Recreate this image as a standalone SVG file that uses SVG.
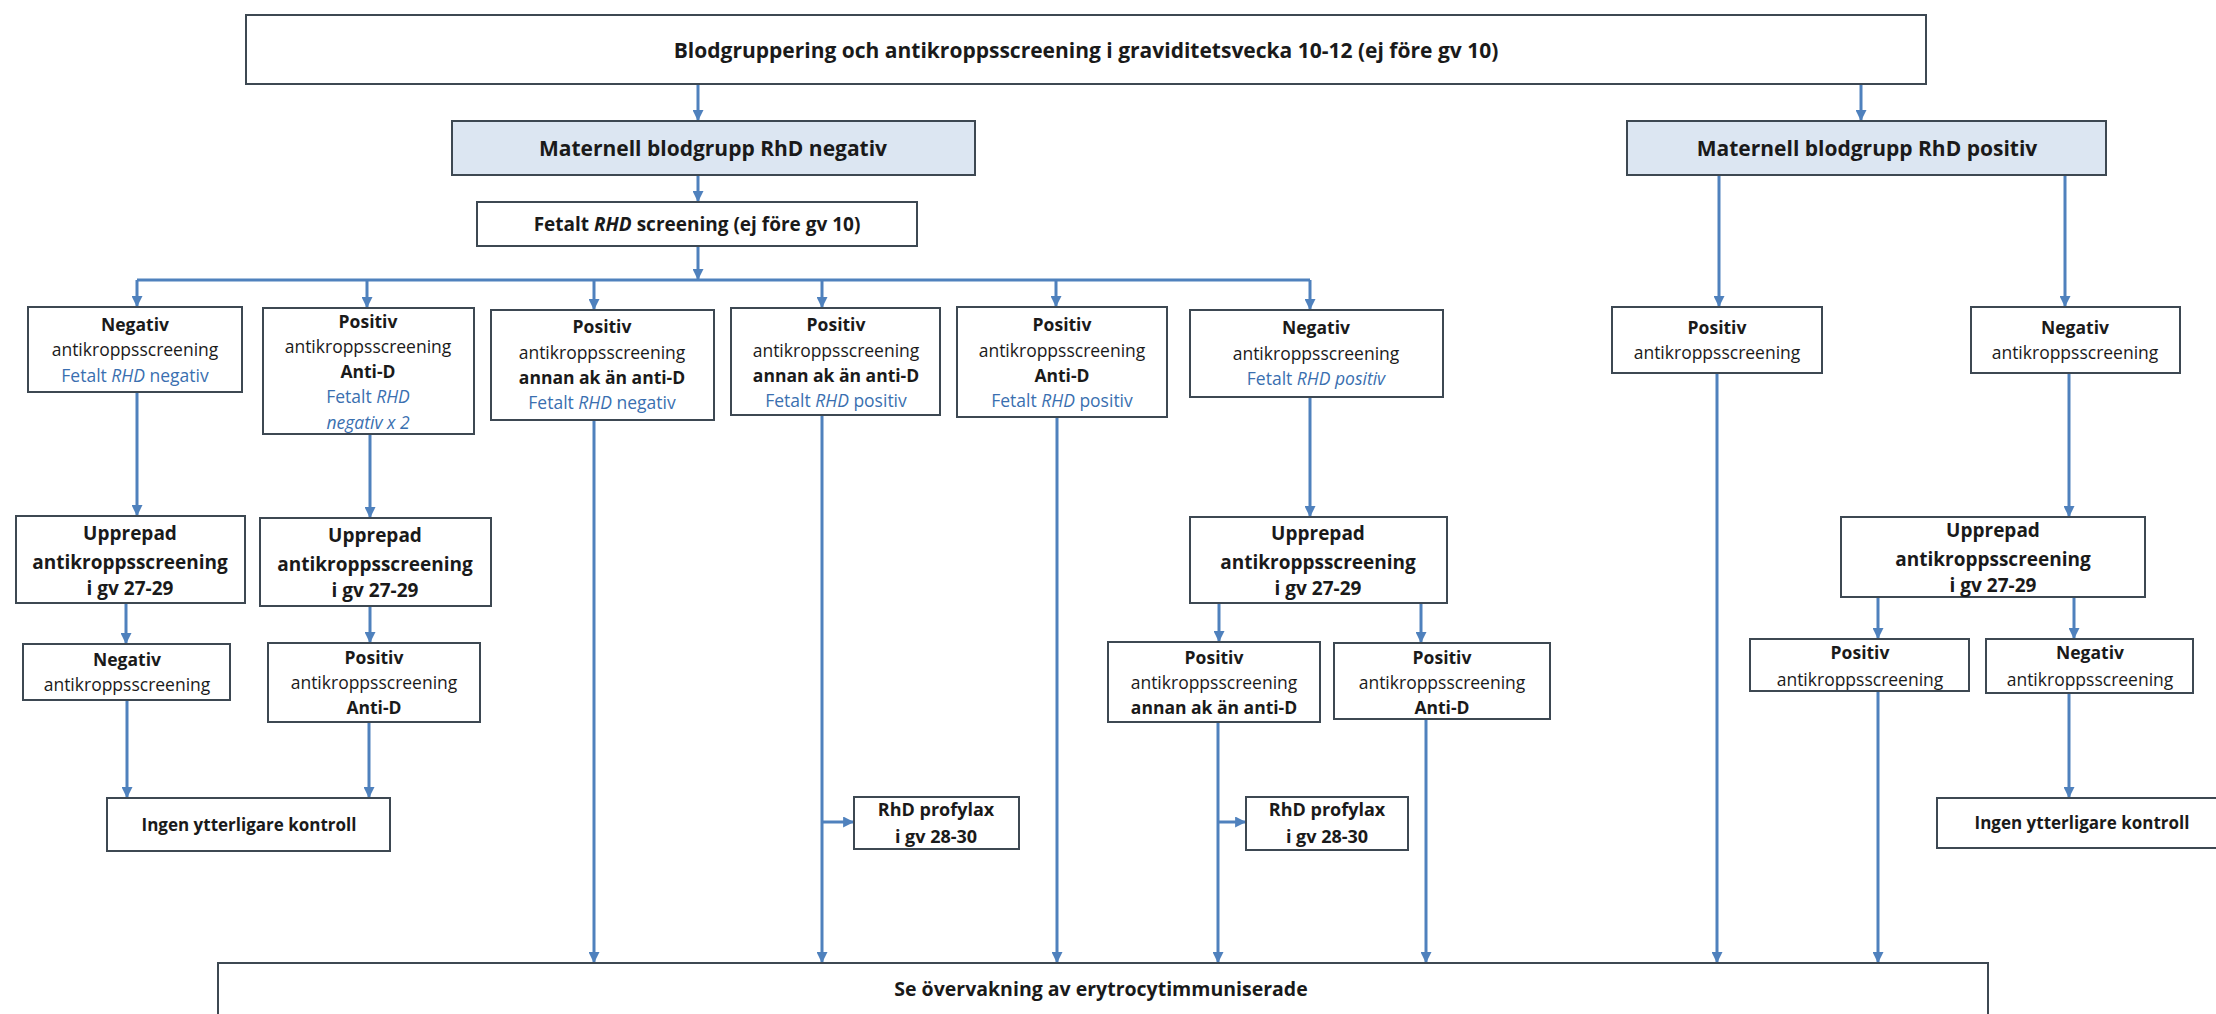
<svg xmlns="http://www.w3.org/2000/svg" width="2216" height="1014" viewBox="0 0 2216 1014">
<style>
.box{fill:#ffffff;stroke:#3d4852;stroke-width:2}
.hl{fill:#dce6f2}
.t{font-family:"Open Sans","Liberation Sans",sans-serif;font-size:17.5px;fill:#1a1a1a;text-anchor:middle}
.L{font-size:19px;font-weight:bold}
.XL{font-size:21px;font-weight:bold}
.M{font-size:17px;font-weight:bold}
.P{font-size:18px;font-weight:bold}
.b{font-weight:bold}
.blue{fill:#3a6fb0}
.i{font-style:italic}
.conn line{stroke:#4f81bd;stroke-width:3;fill:none}
.conn .a{marker-end:url(#ah)}
</style>
<defs>
<marker id="ah" viewBox="0 0 10 10" refX="9" refY="5" markerWidth="11" markerHeight="11" markerUnits="userSpaceOnUse" orient="auto"><path d="M0,0 L10,5 L0,10 z" fill="#4f81bd"/></marker>
</defs>
<rect width="2216" height="1014" fill="#ffffff"/>

<g id="connectors" class="conn">
<line class="a" x1="698" y1="84" x2="698" y2="120"/>
<line class="a" x1="1861" y1="84" x2="1861" y2="120"/>
<line class="a" x1="698" y1="175" x2="698" y2="201"/>
<line class="a" x1="698" y1="246" x2="698" y2="279"/>
<line x1="137" y1="280" x2="1310" y2="280"/>
<line class="a" x1="137" y1="280" x2="137" y2="306"/>
<line class="a" x1="367" y1="280" x2="367" y2="307"/>
<line class="a" x1="594" y1="280" x2="594" y2="309"/>
<line class="a" x1="822" y1="280" x2="822" y2="307"/>
<line class="a" x1="1056" y1="280" x2="1056" y2="306"/>
<line class="a" x1="1310" y1="280" x2="1310" y2="309"/>
<line class="a" x1="1719" y1="175" x2="1719" y2="306"/>
<line class="a" x1="2065" y1="175" x2="2065" y2="306"/>
<line class="a" x1="137" y1="392" x2="137" y2="515"/>
<line class="a" x1="370" y1="434" x2="370" y2="517"/>
<line class="a" x1="126" y1="603" x2="126" y2="643"/>
<line class="a" x1="370" y1="606" x2="370" y2="642"/>
<line class="a" x1="127" y1="700" x2="127" y2="797"/>
<line class="a" x1="369" y1="722" x2="369" y2="797"/>
<line class="a" x1="594" y1="420" x2="594" y2="962"/>
<line class="a" x1="822" y1="415" x2="822" y2="962"/>
<line class="a" x1="822" y1="822" x2="853" y2="822"/>
<line class="a" x1="1057" y1="417" x2="1057" y2="962"/>
<line class="a" x1="1310" y1="397" x2="1310" y2="516"/>
<line class="a" x1="1219" y1="603" x2="1219" y2="641"/>
<line class="a" x1="1421" y1="603" x2="1421" y2="642"/>
<line class="a" x1="1218" y1="722" x2="1218" y2="962"/>
<line class="a" x1="1218" y1="822" x2="1245" y2="822"/>
<line class="a" x1="1426" y1="719" x2="1426" y2="962"/>
<line class="a" x1="1717" y1="373" x2="1717" y2="962"/>
<line class="a" x1="2069" y1="373" x2="2069" y2="516"/>
<line class="a" x1="1878" y1="597" x2="1878" y2="638"/>
<line class="a" x1="2074" y1="597" x2="2074" y2="638"/>
<line class="a" x1="1878" y1="691" x2="1878" y2="962"/>
<line class="a" x1="2069" y1="693" x2="2069" y2="797"/>
</g>

<g id="n_top"><rect class="box" x="246" y="15" width="1680" height="69"/>
<text class="t XL" x="1086" y="58">Blodgruppering och antikroppsscreening i graviditetsvecka 10-12 (ej före gv 10)</text></g>

<g id="n_matneg"><rect class="box hl" x="452" y="121" width="523" height="54"/>
<text class="t XL" x="713" y="156">Maternell blodgrupp RhD negativ</text></g>

<g id="n_matpos"><rect class="box hl" x="1627" y="121" width="479" height="54"/>
<text class="t XL" x="1867" y="156">Maternell blodgrupp RhD positiv</text></g>

<g id="n_fetalt"><rect class="box" x="477" y="202" width="440" height="44"/>
<text class="t L" x="697" y="231">Fetalt <tspan class="i">RHD</tspan> screening (ej före gv 10)</text></g>

<g id="n_b1"><rect class="box" x="28" y="307" width="214" height="85"/>
<text class="t b" x="135" y="331">Negativ</text>
<text class="t" x="135" y="356">antikroppsscreening</text>
<text class="t blue" x="135" y="382">Fetalt <tspan class="i">RHD</tspan> negativ</text></g>

<g id="n_b2"><rect class="box" x="263" y="308" width="211" height="126"/>
<text class="t b" x="368" y="328">Positiv</text>
<text class="t" x="368" y="353">antikroppsscreening</text>
<text class="t b" x="368" y="378">Anti-D</text>
<text class="t blue" x="368" y="403">Fetalt <tspan class="i">RHD</tspan></text>
<text class="t blue i" x="368" y="429">negativ x 2</text></g>

<g id="n_b3"><rect class="box" x="491" y="310" width="223" height="110"/>
<text class="t b" x="602" y="333">Positiv</text>
<text class="t" x="602" y="359">antikroppsscreening</text>
<text class="t b" x="602" y="384">annan ak än anti-D</text>
<text class="t blue" x="602" y="409">Fetalt <tspan class="i">RHD</tspan> negativ</text></g>

<g id="n_b4"><rect class="box" x="731" y="308" width="209" height="107"/>
<text class="t b" x="836" y="331">Positiv</text>
<text class="t" x="836" y="357">antikroppsscreening</text>
<text class="t b" x="836" y="382">annan ak än anti-D</text>
<text class="t blue" x="836" y="407">Fetalt <tspan class="i">RHD</tspan> positiv</text></g>

<g id="n_b5"><rect class="box" x="957" y="307" width="210" height="110"/>
<text class="t b" x="1062" y="331">Positiv</text>
<text class="t" x="1062" y="357">antikroppsscreening</text>
<text class="t b" x="1062" y="382">Anti-D</text>
<text class="t blue" x="1062" y="407">Fetalt <tspan class="i">RHD</tspan> positiv</text></g>

<g id="n_b6"><rect class="box" x="1190" y="310" width="253" height="87"/>
<text class="t b" x="1316" y="334">Negativ</text>
<text class="t" x="1316" y="360">antikroppsscreening</text>
<text class="t blue" x="1316" y="385">Fetalt <tspan class="i">RHD positiv</tspan></text></g>

<g id="n_pp"><rect class="box" x="1612" y="307" width="210" height="66"/>
<text class="t b" x="1717" y="334">Positiv</text>
<text class="t" x="1717" y="359">antikroppsscreening</text></g>

<g id="n_pn"><rect class="box" x="1971" y="307" width="209" height="66"/>
<text class="t b" x="2075" y="334">Negativ</text>
<text class="t" x="2075" y="359">antikroppsscreening</text></g>

<g id="n_u1"><rect class="box" x="16" y="516" width="229" height="87"/>
<text class="t L" x="130" y="540">Upprepad</text>
<text class="t L" x="130" y="569">antikroppsscreening</text>
<text class="t L" x="130" y="595">i gv 27-29</text></g>

<g id="n_u2"><rect class="box" x="260" y="518" width="231" height="88"/>
<text class="t L" x="375" y="542">Upprepad</text>
<text class="t L" x="375" y="571">antikroppsscreening</text>
<text class="t L" x="375" y="597">i gv 27-29</text></g>

<g id="n_u3"><rect class="box" x="1190" y="517" width="257" height="86"/>
<text class="t L" x="1318" y="540">Upprepad</text>
<text class="t L" x="1318" y="569">antikroppsscreening</text>
<text class="t L" x="1318" y="595">i gv 27-29</text></g>

<g id="n_u4"><rect class="box" x="1841" y="517" width="304" height="80"/>
<text class="t L" x="1993" y="537">Upprepad</text>
<text class="t L" x="1993" y="566">antikroppsscreening</text>
<text class="t L" x="1993" y="592">i gv 27-29</text></g>

<g id="n_s1"><rect class="box" x="23" y="644" width="207" height="56"/>
<text class="t b" x="127" y="666">Negativ</text>
<text class="t" x="127" y="691">antikroppsscreening</text></g>

<g id="n_s2"><rect class="box" x="268" y="643" width="212" height="79"/>
<text class="t b" x="374" y="664">Positiv</text>
<text class="t" x="374" y="689">antikroppsscreening</text>
<text class="t b" x="374" y="714">Anti-D</text></g>

<g id="n_s3"><rect class="box" x="1108" y="642" width="212" height="80"/>
<text class="t b" x="1214" y="664">Positiv</text>
<text class="t" x="1214" y="689">antikroppsscreening</text>
<text class="t b" x="1214" y="714">annan ak än anti-D</text></g>

<g id="n_s4"><rect class="box" x="1334" y="643" width="216" height="76"/>
<text class="t b" x="1442" y="664">Positiv</text>
<text class="t" x="1442" y="689">antikroppsscreening</text>
<text class="t b" x="1442" y="714">Anti-D</text></g>

<g id="n_s5"><rect class="box" x="1750" y="639" width="219" height="52"/>
<text class="t b" x="1860" y="659">Positiv</text>
<text class="t" x="1860" y="686">antikroppsscreening</text></g>

<g id="n_s6"><rect class="box" x="1986" y="639" width="207" height="54"/>
<text class="t b" x="2090" y="659">Negativ</text>
<text class="t" x="2090" y="686">antikroppsscreening</text></g>

<g id="n_ingen1"><rect class="box" x="107" y="798" width="283" height="53"/>
<text class="t M" x="249" y="831">Ingen ytterligare kontroll</text></g>

<g id="n_ingen2"><rect class="box" x="1937" y="798" width="290" height="50"/>
<text class="t M" x="2082" y="829">Ingen ytterligare kontroll</text></g>

<g id="n_prof1"><rect class="box" x="854" y="797" width="165" height="52"/>
<text class="t P" x="936" y="816">RhD profylax</text>
<text class="t P" x="936" y="843">i gv 28-30</text></g>

<g id="n_prof2"><rect class="box" x="1246" y="797" width="162" height="53"/>
<text class="t P" x="1327" y="816">RhD profylax</text>
<text class="t P" x="1327" y="843">i gv 28-30</text></g>

<g id="n_bottom"><rect class="box" x="218" y="963" width="1770" height="60"/>
<text class="t" x="1101" y="996" style="font-size:19.5px;font-weight:bold">Se övervakning av erytrocytimmuniserade</text></g>
</svg>
